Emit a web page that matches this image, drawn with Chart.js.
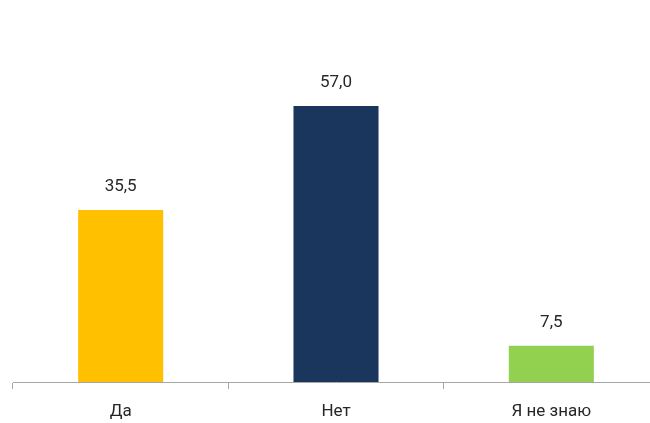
<!DOCTYPE html>
<html>
<head>
<meta charset="utf-8">
<script src="https://cdn.jsdelivr.net/npm/chart.js@4"></script>
<style>
  html, body { margin: 0; padding: 0; background: #fff; overflow: hidden; }
  #wrap { width: 665px; height: 423px; position: relative; }
</style>
</head>
<body>
<div id="wrap"><canvas id="c"></canvas></div>
<script>
const categories = ['Да', 'Нет', 'Я не знаю'];
const values = [35.5, 57.0, 7.5];
const barColors = ['#FFC000', '#1B365D', '#92D050'];

const FONT = "Roboto, 'Noto Sans', sans-serif";

// подписи значений над столбиками
const valueLabels = {
  id: 'valueLabels',
  afterDatasetsDraw(chart) {
    const { ctx } = chart;
    const meta = chart.getDatasetMeta(0);
    ctx.save();
    ctx.font = '17px ' + FONT;
    ctx.fillStyle = '#262626';
    ctx.textAlign = 'center';
    ctx.textBaseline = 'middle';
    meta.data.forEach((bar, i) => {
      ctx.fillText(values[i].toFixed(1).replace('.', ','), bar.x, bar.y - 23);
    });
    ctx.restore();
  }
};

new Chart(document.getElementById('c'), {
  type: 'bar',
  data: {
    labels: categories,
    datasets: [{
      data: values,
      backgroundColor: barColors,
      borderWidth: 0,
      barPercentage: 0.395,
      categoryPercentage: 1.0,
    }],
  },
  options: {
    responsive: true,
    maintainAspectRatio: false,
    animation: false,
    layout: { padding: { left: 13, right: 6, top: 43, bottom: 0 } },
    plugins: { legend: { display: false }, tooltip: { enabled: false } },
    scales: {
      x: {
        offset: true,
        grid: {
          offset: true,
          drawOnChartArea: false,
          drawTicks: true,
          tickLength: 7,
          color: '#A6A6A6',
        },
        border: { color: '#A6A6A6', width: 1 },
        ticks: {
          color: '#262626',
          font: { family: FONT, size: 17 },
          padding: 13,
        },
        afterFit: (s) => { s.height = 41; },
      },
      y: {
        display: false,
        min: 0,
        max: 70,
      },
    },
  },
  plugins: [valueLabels],
});
</script>
</body>
</html>
